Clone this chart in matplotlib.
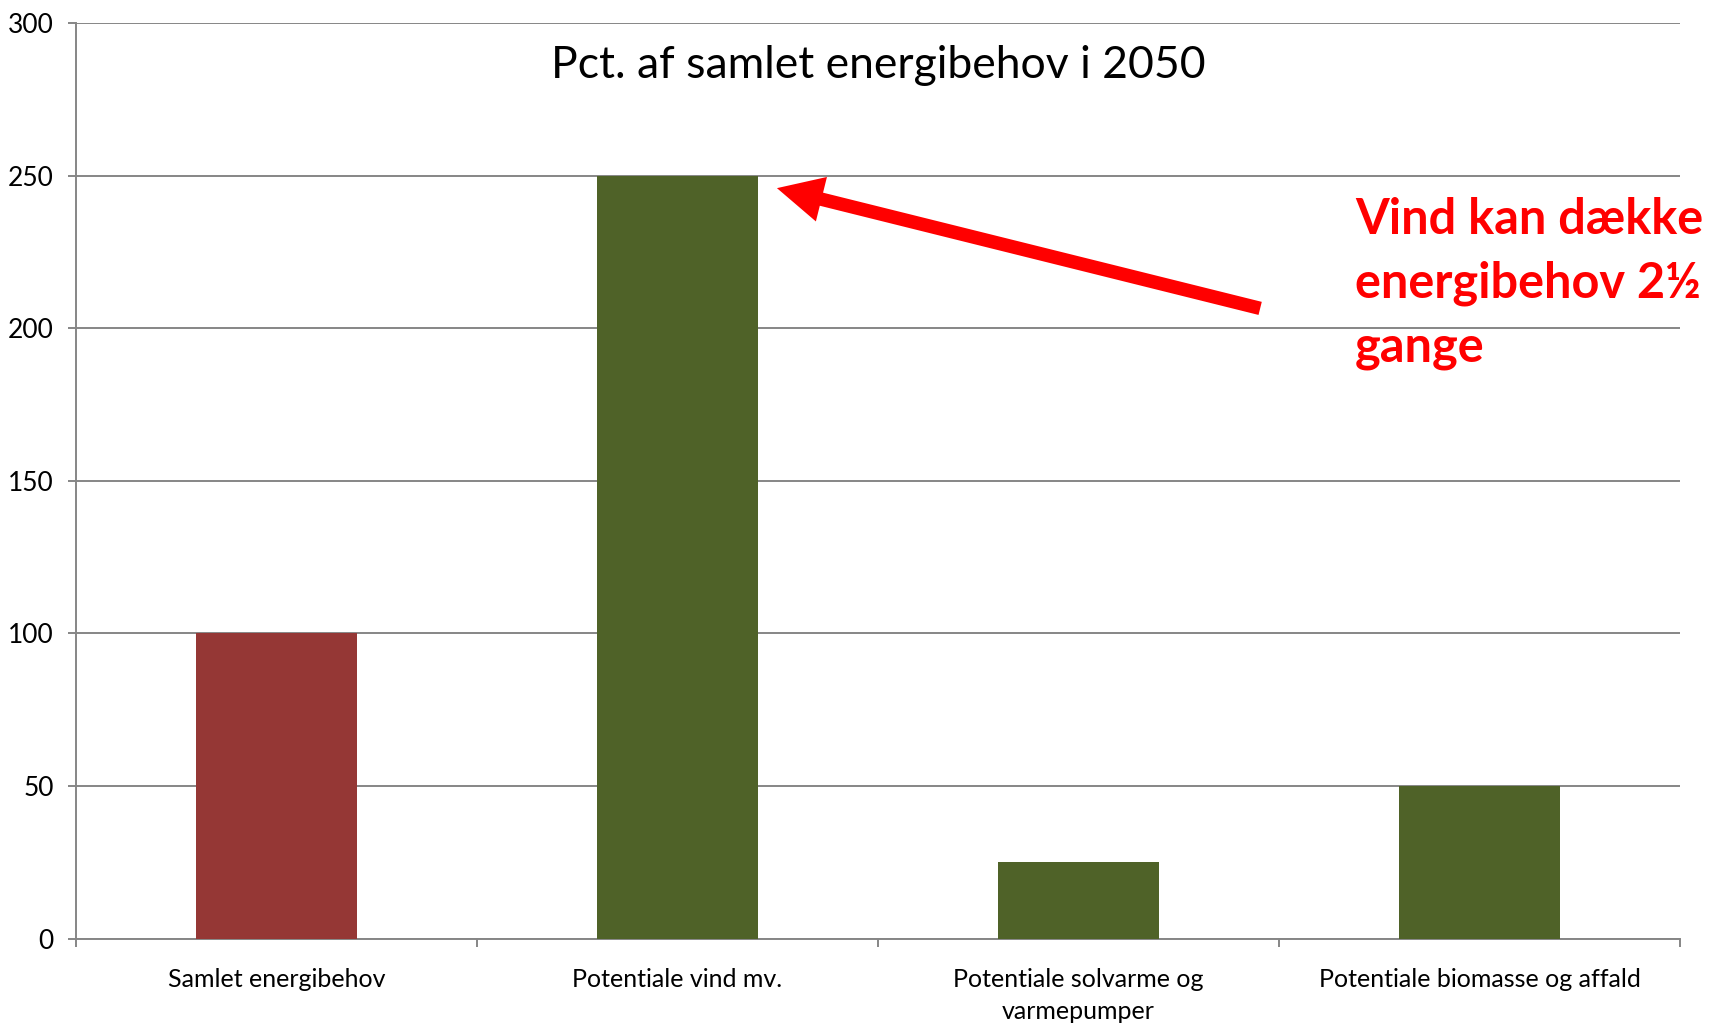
import matplotlib
matplotlib.use("Agg")
import matplotlib.pyplot as plt
import matplotlib.transforms as mtransforms
import numpy as np

categories = ["Samlet energibehov", "Potentiale vind mv.",
              "Potentiale solvarme og\nvarmepumper", "Potentiale biomasse og affald"]
values = [100, 250, 25, 50]
bar_colors = ["#953735", "#4F6228", "#4F6228", "#4F6228"]
yticks = [0, 50, 100, 150, 200, 250, 300]
title = "Pct. af samlet energibehov i 2050"
note = "Vind kan dække\nenergibehov 2½\ngange"

plt.rcParams['font.family'] = ['Lato', 'DejaVu Sans']

fig = plt.figure(figsize=(17.11, 10.25), dpi=100)
ax = fig.add_axes([76/1711, 1-938.7/1025, (1680-76)/1711, (938.7-23)/1025])

x = np.arange(len(categories))
ax.bar(x, values, width=0.4, color=bar_colors, zorder=3)

ax.set_xlim(-0.5, len(categories)-0.5)
ax.set_ylim(0, 300)
ax.set_yticks(yticks)
ax.set_yticklabels([str(v) for v in yticks])
ax.grid(axis='y', color='#868686', linewidth=1.4, zorder=0)
ax.set_axisbelow(True)

for s in ['top', 'right']:
    ax.spines[s].set_visible(False)
for s in ['left', 'bottom']:
    ax.spines[s].set_color('#868686')
    ax.spines[s].set_linewidth(1.4)

ax.set_xticks(x)
ax.set_xticklabels(categories, fontsize=18, linespacing=1.5)
ax.tick_params(axis='x', which='major', length=0, pad=21)
ax.set_xticks(np.arange(-0.5, len(categories)), minor=True)
ax.tick_params(axis='x', which='minor', length=6, color='#868686', width=1.4)
ax.tick_params(axis='y', length=6, color='#868686', width=1.4, labelsize=19, pad=10)

title_tr = mtransforms.blended_transform_factory(ax.transAxes, fig.transFigure)
ax.text(0.5, (1025-65)/1025, title, transform=title_tr, ha='center', va='center',
        fontsize=32, color='black')

ax.annotate("", xy=(1.248, 245.9), xytext=(2.453, 206.5),
            arrowprops=dict(arrowstyle="simple,head_length=33,head_width=33,tail_width=9.7",
                            mutation_scale=1, color='red', shrinkA=0, shrinkB=0, lw=0))

fig.text(1355/1711, 1-197/1025, note, color='red', fontsize=35, fontweight='bold',
         ha='left', va='top', linespacing=1.5)

fig.savefig("out.png", dpi=100)
